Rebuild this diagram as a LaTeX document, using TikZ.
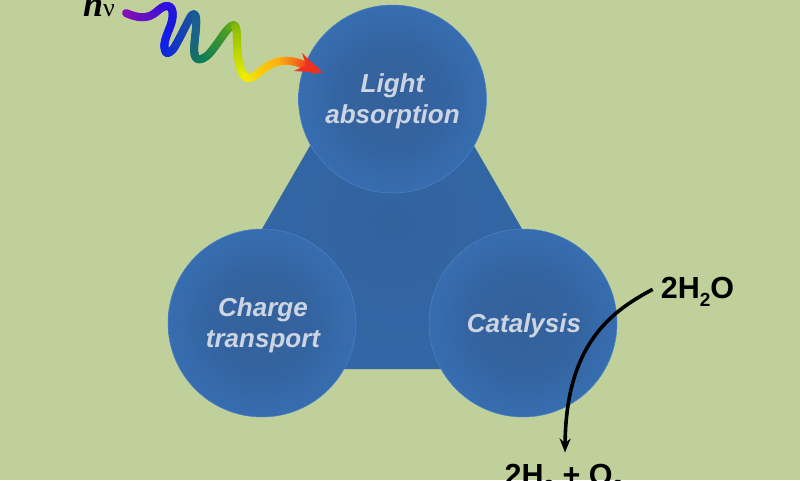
\documentclass[tikz,border=0pt]{standalone}
\usepackage{fontspec}
\usetikzlibrary{arrows.meta}
\setmainfont{Liberation Sans}
\newfontfamily\serifnu{Liberation Serif}
\definecolor{bgc}{HTML}{BFD09B}
\definecolor{lab}{HTML}{CDD5E3}
\definecolor{rim}{HTML}{4A83C6}
\pgfdeclareradialshading{blob}{\pgfpoint{0bp}{0bp}}{
  rgb(0bp)=(0.200,0.380,0.610);
  rgb(14bp)=(0.204,0.392,0.630);
  rgb(30bp)=(0.220,0.447,0.720);
  rgb(50bp)=(0.231,0.467,0.753)}
\pgfdeclareradialshading{core}{\pgfpoint{0bp}{0bp}}{
  rgb(0bp)=(0.192,0.388,0.624);
  rgb(25bp)=(0.200,0.408,0.655);
  rgb(50bp)=(0.224,0.451,0.722)}
\newcommand{\lowtwo}{\raisebox{-8pt}{\fontsize{19}{19}\selectfont 2}}
\tikzset{
  blobnode/.style={circle,minimum size=188pt,inner sep=0pt,shading=blob,draw=rim,line width=0.5pt},
  lbl/.style={inner sep=0pt,text=lab,align=center,font=\fontsize{26}{31}\selectfont\bfseries\itshape},
  chem/.style={inner sep=0pt,font=\fontsize{30.5}{34}\selectfont\bfseries},
  wave/.style={line width=8pt,line cap=round}
}
\begin{document}
\begin{tikzpicture}[x=1pt,y=-1pt]
\useasboundingbox (0,0) rectangle (800,480);
\clip (0,0) rectangle (800,480);
\fill[bgc] (0,0) rectangle (800,480);
% triangle
\begin{scope}
\clip (392,4) -- (181,369) -- (603,369) -- cycle;
\node[circle,minimum size=420pt,inner sep=0pt,shading=core] (core) at (392,222) {};
\end{scope}
% circles
\node[blobnode] (light) at (392.5,99) {};
\node[blobnode] (charge) at (262,323) {};
\node[blobnode] (cat) at (523,323) {};
\node[lbl] (lightt) at ([yshift=-2.5pt]light.center) {Light\\absorption};
\node[lbl] (charget) at ([xshift=1pt,yshift=-2.5pt]charge.center) {Charge\\transport};
\node[lbl] (catt) at ([xshift=1pt,yshift=-2.5pt]cat.center) {Catalysis};
% chemistry labels
\node[chem,anchor=base] (water) at (697.5,298) {2H\lowtwo O};
\node[chem,anchor=base] (prod) at (564,485) {2H\lowtwo{} + O\lowtwo};
\node[inner sep=0pt,anchor=base west] (hv) at (83,16) {\serifnu\fontsize{36}{36}\selectfont\bfseries\itshape h\fontsize{26}{26}\selectfont\mdseries\upshape ν};
% reaction arrow
\draw[line width=3.6pt,-{Stealth[length=14pt,width=11pt]}]
  ([xshift=-8pt,yshift=2pt]water.west) .. controls (610,312) and (566,345) .. ([xshift=1pt,yshift=11pt]prod.north);
% rainbow wave
\definecolor{c0}{HTML}{8A10B0}\definecolor{c1}{HTML}{5A10C8}\definecolor{c2}{HTML}{3010E0}
\definecolor{c3}{HTML}{1818E0}\definecolor{c4}{HTML}{1020F0}\definecolor{c5}{HTML}{1030D0}
\definecolor{c6}{HTML}{1A50A0}\definecolor{c7}{HTML}{1A6090}\definecolor{c8}{HTML}{186A70}
\definecolor{c9}{HTML}{108050}\definecolor{c10}{HTML}{50A020}\definecolor{c11}{HTML}{A0C800}
\definecolor{c12}{HTML}{F0F000}\definecolor{c13}{HTML}{FFB010}\definecolor{c14}{HTML}{F03020}
\foreach \ax/\ay/\bx/\by/\cx/\cy/\dx/\dy/\ca/\cb in {
 126/13/135/17/146/20/155/13/c0/c1,
 155/13/160/9/163/6/167/6/c1/c2,
 167/6/174/6/174/17/170/27/c2/c3,
 170/27/166/37/163/44/165/50/c3/c4,
 165/50/166/55/170/53/174/48/c4/c5,
 174/48/180/38/187/23/191/16/c5/c6,
 191/16/195/12/197/15/196/28/c6/c7,
 196/28/195/40/193/50/195/56/c7/c8,
 195/56/197/61/202/60/208/55/c8/c9,
 208/55/216/47/224/32/230/27/c9/c10,
 230/27/236/22/237/28/237/42/c10/c11,
 237/42/237/55/240/78/248/78/c11/c12,
 248/78/258/78/265/62/283/61/c12/c13,
 283/61/295/60/305/65/315/70/c13/c14}{
  \foreach \i in {1,...,16}{
    \pgfmathsetmacro{\ta}{(\i-1)/16}
    \pgfmathsetmacro{\tb}{\i/16}
    \pgfmathsetmacro{\xa}{(1-\ta)^3*\ax+3*(1-\ta)^2*\ta*\bx+3*(1-\ta)*\ta^2*\cx+\ta^3*\dx}
    \pgfmathsetmacro{\ya}{(1-\ta)^3*\ay+3*(1-\ta)^2*\ta*\by+3*(1-\ta)*\ta^2*\cy+\ta^3*\dy}
    \pgfmathsetmacro{\xb}{(1-\tb)^3*\ax+3*(1-\tb)^2*\tb*\bx+3*(1-\tb)*\tb^2*\cx+\tb^3*\dx}
    \pgfmathsetmacro{\yb}{(1-\tb)^3*\ay+3*(1-\tb)^2*\tb*\by+3*(1-\tb)*\tb^2*\cy+\tb^3*\dy}
    \pgfmathtruncatemacro{\pc}{100*(1-\tb)}
    \draw[wave,draw=\ca!\pc!\cb] (\xa,\ya) -- (\xb,\yb);
  }
}
\fill[c14] (323,73) -- (302,53) -- (306,65) -- (294,71) -- (310,72) -- cycle;
\end{tikzpicture}
\end{document}
